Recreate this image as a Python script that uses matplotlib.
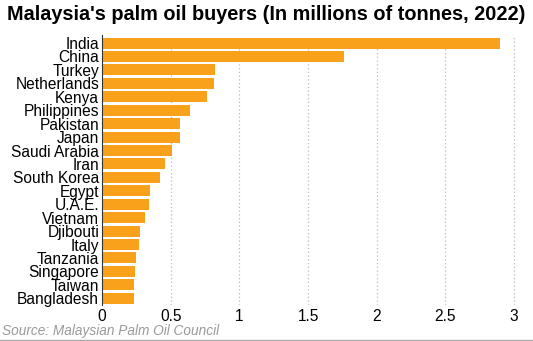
import matplotlib.pyplot as plt

countries = ["India", "China", "Turkey", "Netherlands", "Kenya", "Philippines",
             "Pakistan", "Japan", "Saudi Arabia", "Iran", "South Korea", "Egypt",
             "U.A.E.", "Vietnam", "Djibouti", "Italy", "Tanzania", "Singapore",
             "Taiwan", "Bangladesh"]
tonnes = [2.90, 1.76, 0.82, 0.815, 0.765, 0.64, 0.57, 0.565, 0.51, 0.46, 0.42,
          0.35, 0.345, 0.315, 0.28, 0.27, 0.25, 0.24, 0.23, 0.23]
xticks = [0, 0.5, 1, 1.5, 2, 2.5, 3]
xticklabels = ["0", "0.5", "1", "1.5", "2", "2.5", "3"]

plt.rcParams['font.family'] = ['Liberation Sans', 'DejaVu Sans']

fig = plt.figure(figsize=(5.33, 3.41), dpi=100)
ax = fig.add_axes([102/533, 1 - 305/341, (533 - 102 - 12)/533, (305 - 35)/341])

y = list(range(len(countries)))
ax.barh(y, tonnes, height=0.82, color='#F9A11B', zorder=2)
ax.set_yticks(y)
ax.set_yticklabels(countries, fontsize=11.2)
ax.invert_yaxis()
ax.set_ylim(len(countries) - 0.5, -0.6)
ax.set_xlim(0, 3.05)
ax.set_xticks(xticks)
ax.set_xticklabels(xticklabels, fontsize=11.2)
ax.tick_params(length=0, pad=2)
ax.tick_params(axis='x', pad=3)
ax.xaxis.grid(True, linestyle=(0, (1, 2)), color='#bbbbbb', linewidth=0.9, zorder=0)

for s in ['top', 'right', 'bottom']:
    ax.spines[s].set_visible(False)
ax.spines['left'].set_color('#333333')
ax.spines['left'].set_linewidth(0.8)
ax.spines['left'].set_zorder(3)

fig.text(0.5, 1 - 14/341, "Malaysia's palm oil buyers (In millions of tonnes, 2022)",
         ha='center', va='center', fontsize=14.3, fontweight='bold')
fig.text(2/533, 1 - 331/341, "Source: Malaysian Palm Oil Council",
         ha='left', va='center', fontsize=9.8, style='italic', color='#999999')
fig.add_artist(plt.Line2D([0, 1], [1 - 339.5/341, 1 - 339.5/341], color='#aaaaaa', linewidth=1))

fig.savefig("out.png", dpi=100)
